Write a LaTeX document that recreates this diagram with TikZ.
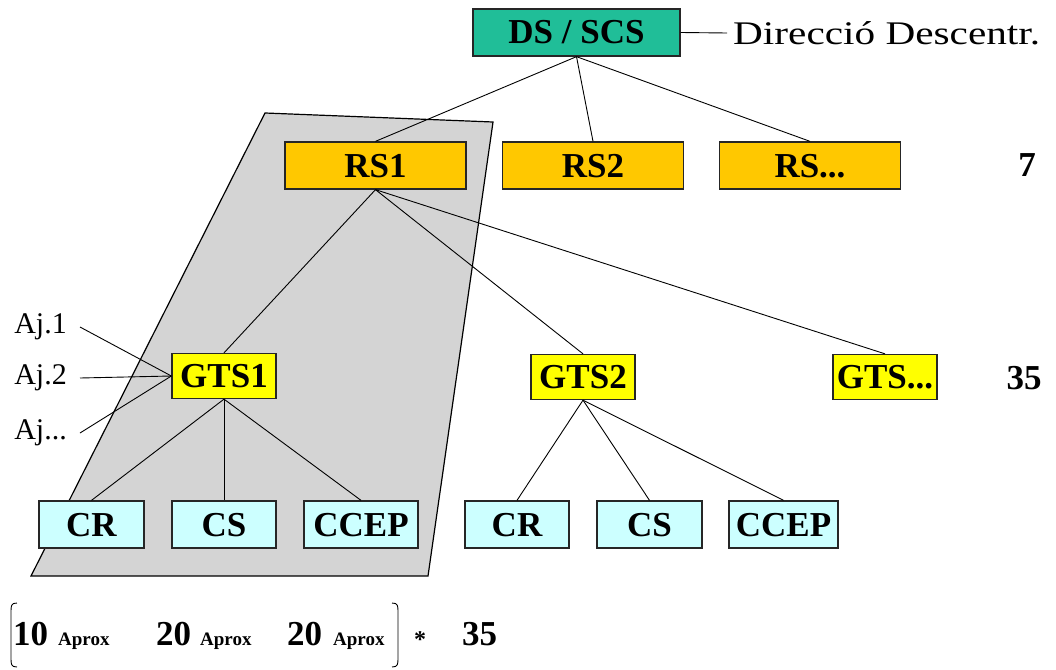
\documentclass[tikz,border=0pt]{standalone}
\usepackage{fontspec}
\setmainfont{Liberation Serif}
\newfontfamily\widefont[FakeStretch=1.25]{Liberation Serif}
\definecolor{dsgreen}{RGB}{32,190,152}
\definecolor{rsorange}{RGB}{255,200,0}
\definecolor{gtsyellow}{RGB}{255,255,0}
\definecolor{leafcyan}{RGB}{204,255,255}
\definecolor{areagray}{RGB}{212,212,212}
\begin{document}
\begin{tikzpicture}[x=1pt,y=-1pt,
  box/.style={draw=black!85, line width=1.3pt, inner sep=0pt, font=\bfseries\fontsize{35}{35}\selectfont, text height=23pt, text depth=0pt},
  dsbox/.style={box, fill=dsgreen, minimum width=207pt, minimum height=47pt},
  rsbox/.style={box, fill=rsorange, minimum width=181pt, minimum height=47pt},
  gtsbox/.style={box, fill=gtsyellow, minimum width=104pt, minimum height=45pt},
  leafbox/.style={box, fill=leafcyan, minimum height=47pt},
  conn/.style={draw=black, line width=0.9pt},
  plain/.style={inner sep=0pt, font=\fontsize{30}{30}\selectfont},
  count/.style={inner sep=0pt, font=\bfseries\fontsize{35}{35}\selectfont},
  small/.style={inner sep=0pt, font=\bfseries\fontsize{19}{19}\selectfont}]
\useasboundingbox (0,0) rectangle (1056,669);
% shaded area
\draw[fill=areagray, line width=1.2pt] (265,113) -- (493,122) -- (428,576) -- (31,576) -- cycle;
% boxes
\node[dsbox] (ds) at (576.5,32.5) {DS / SCS};
\node[rsbox] (rs1) at (375.5,165.5) {RS1};
\node[rsbox] (rs2) at (593,165.5) {RS2};
\node[rsbox] (rs3) at (810,165.5) {RS...};
\node[gtsbox] (gts1) at (224,376) {GTS1};
\node[gtsbox] (gts2) at (583,377) {GTS2};
\node[gtsbox] (gts3) at (885,377) {GTS...};
\node[leafbox, minimum width=105pt] (cr1) at (91.5,524.5) {CR};
\node[leafbox, minimum width=104pt] (cs1) at (224,524.5) {CS};
\node[leafbox, minimum width=114pt] (ccep1) at (361,524.5) {CCEP};
\node[leafbox, minimum width=104pt] (cr2) at (517,524.5) {CR};
\node[leafbox, minimum width=105pt] (cs2) at (649.5,524.5) {CS};
\node[leafbox, minimum width=109pt] (ccep2) at (783.5,524.5) {CCEP};
% labels
\node[anchor=west, inner sep=0pt, font=\widefont\fontsize{33}{33}\selectfont] (dir) at (733,33) {Direcció Descentr.};
\node[count] (n7) at (1027,165) {7};
\node[count] (n35) at (1024,378) {35};
\node[plain, anchor=east] (aj1) at (67,327) {Aj.1};
\node[plain, anchor=east] (aj2) at (67,378) {Aj.2};
\node[plain, anchor=east] (aj3) at (67,433) {Aj...};
% connectors
\draw[conn] (ds.east) -- ([xshift=-6pt]dir.west);
\draw[conn] (ds.south) -- (rs1.north);
\draw[conn] (ds.south) -- (rs2.north);
\draw[conn] (ds.south) -- (rs3.north);
\draw[conn] (rs1.south) -- (gts1.north);
\draw[conn] (rs1.south) -- (gts2.north);
\draw[conn] (rs1.south) -- (gts3.north);
\draw[conn] ([xshift=13pt]aj1.east) -- (gts1.west);
\draw[conn] ([xshift=13pt]aj2.east) -- (gts1.west);
\draw[conn] ([xshift=13pt]aj3.east) -- (gts1.west);
\draw[conn] (gts1.south) -- (cr1.north);
\draw[conn] (gts1.south) -- (cs1.north);
\draw[conn] (gts1.south) -- (ccep1.north);
\draw[conn] (gts2.south) -- (cr2.north);
\draw[conn] (gts2.south) -- (cs2.north);
\draw[conn] (gts2.south) -- (ccep2.north);
% bottom summary
\draw[line width=0.9pt] (17,603) .. controls (11,603) and (11,606) .. (11,612) -- (11,658) .. controls (11,664) and (11,667) .. (17,667);
\draw[line width=0.9pt] (392,603) .. controls (398,603) and (398,606) .. (398,612) -- (398,658) .. controls (398,664) and (398,667) .. (392,667);
\node[count, anchor=base west] (b10) at (13,645) {10};
\node[small, anchor=base west] (a1) at (58,645) {Aprox};
\node[count, anchor=base west] (b20a) at (156,645) {20};
\node[small, anchor=base west] (a2) at (200,645) {Aprox};
\node[count, anchor=base west] (b20b) at (287,645) {20};
\node[small, anchor=base west] (a3) at (333,645) {Aprox};
\node[count, anchor=base west, font=\bfseries\fontsize{24}{24}\selectfont] (star) at (414,647) {*};
\node[count, anchor=base west] (b35) at (462,645) {35};
\end{tikzpicture}
\end{document}
